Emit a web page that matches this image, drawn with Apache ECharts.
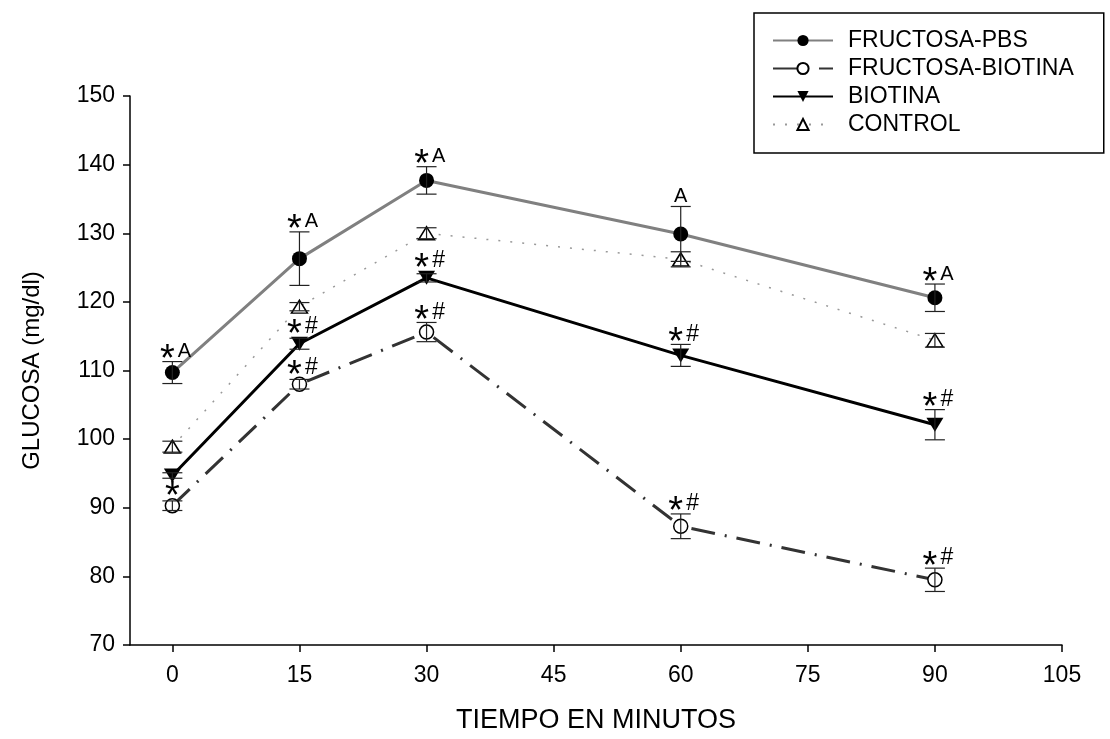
<!DOCTYPE html>
<html>
<head>
<meta charset="utf-8">
<title>Glucosa</title>
<script src="https://cdn.jsdelivr.net/npm/echarts@6/dist/echarts.min.js"></script>
<style>
    html, body { margin: 0; padding: 0; background: #fff; }
    #chart { width: 1110px; height: 739px; }
</style>
</head>
<body>
<div id="chart"></div>
<script>
var tiempo = [0, 15, 30, 60, 90];
var xTicks = [0, 15, 30, 45, 60, 75, 90, 105];

// medias y errores (mg/dl)
var fructosaPBS = [109.7, 126.3, 137.7, 129.9, 120.6];
var fructosaPBSErr = [1.6, 3.9, 2.0, 4.0, 2.0];
var fructosaPBSNotas = ['*A', '*A', '*A', 'A', '*A'];

var fructosaBiotina = [90.3, 108.0, 115.6, 87.3, 79.5];
var fructosaBiotinaErr = [0.7, 0.7, 1.4, 1.8, 1.7];
var fructosaBiotinaNotas = ['*', '*#', '*#', '*#', '*#'];

var biotina = [94.7, 113.9, 123.5, 112.2, 102.1];
var biotinaErr = [0.4, 0.8, 0.6, 1.6, 2.2];
var biotinaNotas = ['', '*#', '*#', '*#', '*#'];

var control = [98.9, 119.3, 130.0, 126.2, 114.4];
var controlErr = [0.8, 0.6, 0.8, 1.1, 1.0];
var controlNotas = ['', '', '', '', ''];

var fuente = 'Liberation Sans, Arial, sans-serif';

function puntos(vals) {
    return tiempo.map(function (t, i) { return [t, vals[i]]; });
}

// barras de error + asteriscos / letras encima de cada punto
function barrasError(nombre, vals, errs, notas) {
    return {
        type: 'custom',
        name: nombre + '-err',
        z: 5,
        silent: true,
        data: tiempo.map(function (t, i) { return [t, vals[i] - errs[i], vals[i] + errs[i], vals[i]]; }),
        encode: { x: 0, y: [1, 2] },
        renderItem: function (params, api) {
            var lo = api.coord([api.value(0), api.value(1)]);
            var hi = api.coord([api.value(0), api.value(2)]);
            var mid = api.coord([api.value(0), api.value(3)]);
            var w = 10;
            var st = { stroke: '#222', lineWidth: 1.2 };
            var hijos = [
                { type: 'line', shape: { x1: lo[0], y1: lo[1], x2: hi[0], y2: hi[1] }, style: st },
                { type: 'line', shape: { x1: hi[0] - w, y1: hi[1], x2: hi[0] + w, y2: hi[1] }, style: st },
                { type: 'line', shape: { x1: lo[0] - w, y1: lo[1], x2: lo[0] + w, y2: lo[1] }, style: st }
            ];
            var nota = notas[params.dataIndex];
            if (nota) {
                var cy = Math.min(hi[1], mid[1] - 7) - 10;
                var conEstrella = nota.charAt(0) === '*';
                var resto = conEstrella ? nota.slice(1) : nota;
                if (conEstrella) {
                    hijos.push({
                        type: 'text',
                        style: {
                            text: '*', x: resto ? hi[0] - 5 : hi[0], y: cy + 9,
                            align: 'center', verticalAlign: 'middle',
                            font: '38px ' + fuente, fill: '#000'
                        }
                    });
                }
                if (resto) {
                    hijos.push({
                        type: 'text',
                        style: {
                            text: resto, x: conEstrella ? hi[0] + 12 : hi[0], y: cy,
                            align: 'center', verticalAlign: 'middle',
                            font: (resto === '#' ? '23px ' : '20px ') + fuente, fill: '#000'
                        }
                    });
                }
            }
            return { type: 'group', children: hijos };
        }
    };
}

var chart = echarts.init(document.getElementById('chart'));

var option = {
    backgroundColor: '#fff',
    animation: false,
    textStyle: { fontFamily: fuente },
    grid: { left: 130, right: 48, top: 96, bottom: 87 },
    legend: {
        data: ['FRUCTOSA-PBS', 'FRUCTOSA-BIOTINA', 'BIOTINA', 'CONTROL'],
        orient: 'vertical',
        left: 754,
        top: 13,
        padding: [16, 30, 17, 18],
        itemWidth: 60,
        itemHeight: 14,
        itemGap: 5,
        borderColor: '#000',
        borderWidth: 1.5,
        textStyle: { fontFamily: fuente, fontSize: 23, color: '#000', padding: [0, 0, 0, 10] }
    },
    xAxis: {
        type: 'value',
        min: -5,
        max: 105,
        name: 'TIEMPO EN MINUTOS',
        nameLocation: 'middle',
        nameGap: 62,
        nameTextStyle: { fontFamily: fuente, fontSize: 27, color: '#000' },
        axisLine: { onZero: false, lineStyle: { color: '#000', width: 1.5 } },
        axisTick: { length: 7, lineStyle: { color: '#000', width: 1.5 }, customValues: xTicks },
        axisLabel: { fontFamily: fuente, fontSize: 23, color: '#000', margin: 19, customValues: xTicks },
        splitLine: { show: false }
    },
    yAxis: {
        type: 'value',
        min: 70,
        max: 150,
        interval: 10,
        name: 'GLUCOSA (mg/dl)',
        nameLocation: 'middle',
        nameGap: 86,
        nameTextStyle: { fontFamily: fuente, fontSize: 24, color: '#000' },
        axisLine: { show: true, onZero: false, lineStyle: { color: '#000', width: 1.5 } },
        axisTick: { show: true, length: 7, lineStyle: { color: '#000', width: 1.5 } },
        axisLabel: { fontFamily: fuente, fontSize: 23, color: '#000', margin: 15 },
        splitLine: { show: false }
    },
    series: [
        {
            name: 'CONTROL',
            type: 'line',
            data: puntos(control),
            symbol: 'triangle',
            symbolSize: [16, 13],
            itemStyle: { color: '#fff', borderColor: '#000', borderWidth: 1.5 },
            lineStyle: { color: '#999', width: 1.5, type: [2, 10] },
            z: 2
        },
        {
            name: 'FRUCTOSA-BIOTINA',
            type: 'line',
            data: puntos(fructosaBiotina),
            symbol: 'circle',
            symbolSize: 14,
            itemStyle: { color: '#fff', borderColor: '#000', borderWidth: 1.5 },
            lineStyle: { color: '#333', width: 3, type: [24, 10, 2, 10] },
            z: 3
        },
        {
            name: 'BIOTINA',
            type: 'line',
            data: puntos(biotina),
            symbol: 'triangle',
            symbolRotate: 180,
            symbolSize: [17, 14],
            itemStyle: { color: '#000' },
            lineStyle: { color: '#000', width: 3 },
            z: 3
        },
        {
            name: 'FRUCTOSA-PBS',
            type: 'line',
            data: puntos(fructosaPBS),
            symbol: 'circle',
            symbolSize: 15,
            itemStyle: { color: '#000' },
            lineStyle: { color: '#808080', width: 3 },
            z: 4
        },
        barrasError('CONTROL', control, controlErr, controlNotas),
        barrasError('FRUCTOSA-BIOTINA', fructosaBiotina, fructosaBiotinaErr, fructosaBiotinaNotas),
        barrasError('BIOTINA', biotina, biotinaErr, biotinaNotas),
        barrasError('FRUCTOSA-PBS', fructosaPBS, fructosaPBSErr, fructosaPBSNotas)
    ]
};

chart.setOption(option);
</script>
</body>
</html>
